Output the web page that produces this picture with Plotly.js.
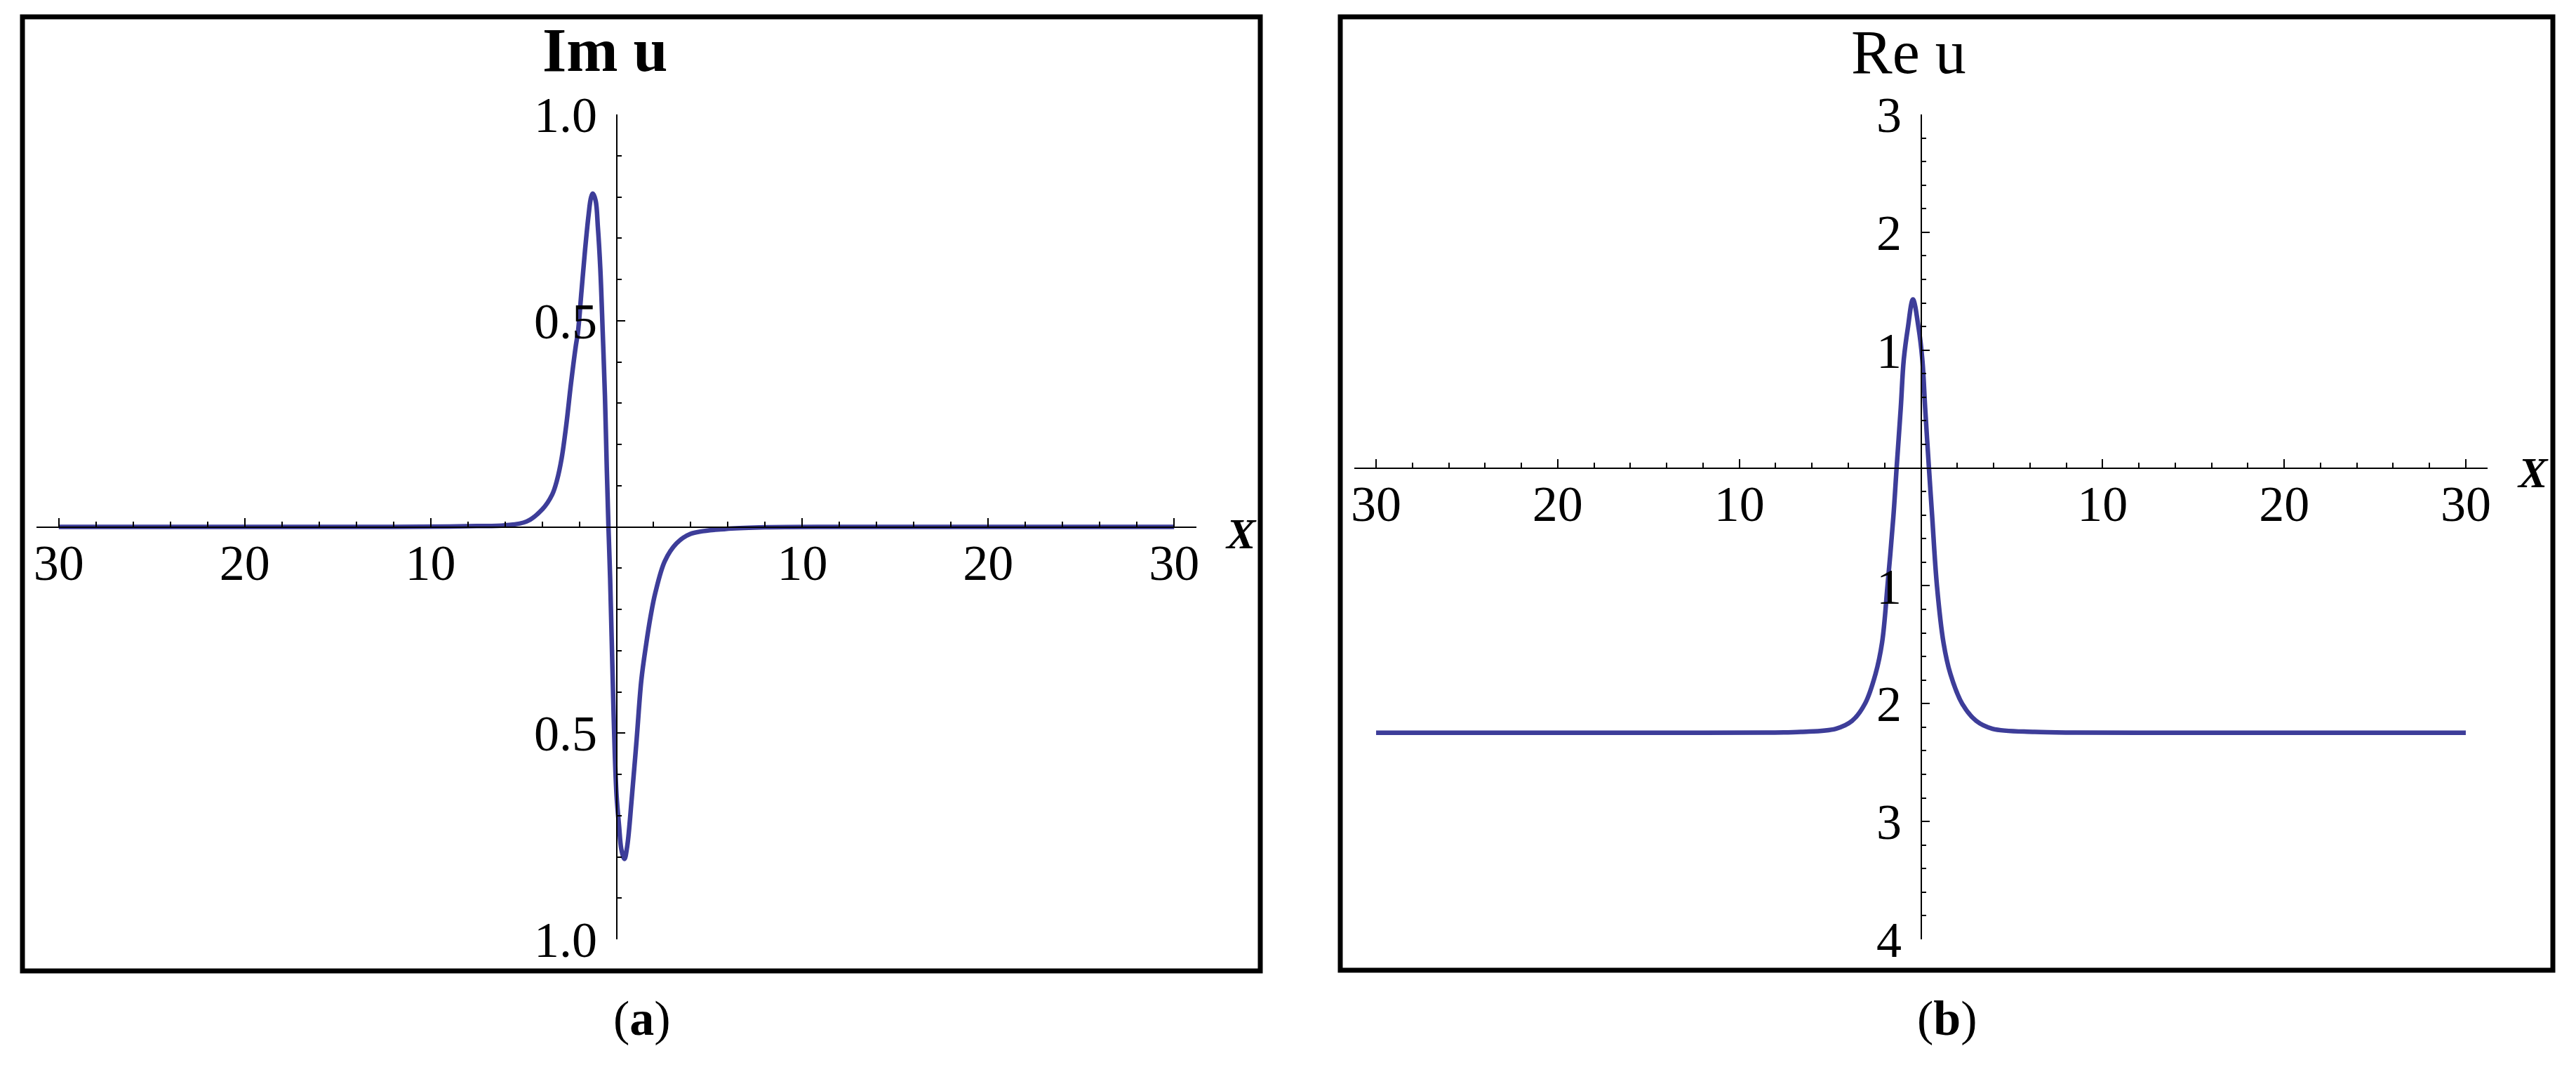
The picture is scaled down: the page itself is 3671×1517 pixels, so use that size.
<!DOCTYPE html>
<html>
<head>
<meta charset="utf-8">
<script src="https://cdn.plot.ly/plotly-3.0.1.min.js"></script>
<style>
body{margin:0;background:#fff;}
#chart{width:3671px;height:1517px;}
</style>
</head>
<body>
<div id="chart"></div>
<script>
// values
let imX=[-30,-20,-12,-9,-7.5,-5.98,-4.84,-3.98,-3.46,-3.2,-2.95,-2.7,-2.45,-2.19,-2.07,-1.88,-1.69,-1.5,-1.37,-1.27,-1.12,-1,-0.87,-0.74,-0.62,-0.52,-0.43,-0.34,-0.26,-0.18,-0.09,0.01,0.14,0.26,0.43,0.58,0.83,1.09,1.34,1.59,1.84,2.09,2.6,3.23,3.98,5.87,8,12,20,30];
let imY=[0,0,0,0.001,0.002,0.004,0.013,0.043,0.078,0.113,0.166,0.247,0.346,0.438,0.473,0.572,0.671,0.756,0.798,0.808,0.791,0.727,0.628,0.473,0.318,0.141,0,-0.125,-0.266,-0.407,-0.549,-0.654,-0.725,-0.781,-0.805,-0.774,-0.654,-0.513,-0.371,-0.287,-0.216,-0.16,-0.083,-0.04,-0.017,-0.005,-0.001,0,0,0];

let reX=[-30,-20,-12,-8.5,-6.6,-4.69,-3.79,-3.08,-2.5,-2.14,-1.84,-1.52,-1.34,-1.11,-0.95,-0.73,-0.44,-0.12,0.08,0.23,0.44,0.62,0.88,1.24,1.62,2.27,3.04,3.94,6.26,8.5,12,20,30];
let reY=[-2.247,-2.247,-2.247,-2.246,-2.24,-2.213,-2.146,-2.0,-1.747,-1.481,-0.998,-0.417,0,0.513,0.912,1.178,1.43,1.178,0.912,0.513,0,-0.417,-0.998,-1.481,-1.747,-2.0,-2.146,-2.213,-2.24,-2.246,-2.247,-2.247,-2.247];

let xTickVals=[-30,-20,-10,10,20,30];
let xTickText=["30","20","10","10","20","30"];
let imTickVals=[-1,-0.5,0.5,1];
let imTickText=["1.0","0.5","0.5","1.0"];
let reTickVals=[-4,-3,-2,-1,1,2,3];
let reTickText=["4","3","2","1","1","2","3"];

let W=3671,H=1517;
function px(x){return x/W;}
function py(y){return 1-y/H;}

let lineColor="#3d3d99";
let serif="Liberation Serif, Times New Roman, serif";

// plot areas in pixels
let aLeft=52,aRight=1705,bLeft=1930,bRight=3545,plotTop=163,plotBottom=1338;
let yDom=[py(plotBottom),py(plotTop)];
let xRange=[-31.2,31.2];
let imRange=[-1,1];
let reRange=[-4,3];

function zeroPos(dom,range){
return dom[0]+(0-range[0])/(range[1]-range[0])*(dom[1]-dom[0]);
}

function xAxis(dom,yr){
return {
domain:dom,range:xRange,anchor:"free",position:zeroPos(yDom,yr),side:"bottom",
showline:true,linecolor:"black",linewidth:2,zeroline:false,showgrid:false,
ticks:"inside",ticklen:12,tickwidth:2,tickcolor:"black",
tickmode:"array",tickvals:xTickVals,ticktext:xTickText,
minor:{ticks:"inside",ticklen:7,tickwidth:2,tickcolor:"black",dtick:2,tick0:0,showgrid:false},
tickfont:{family:serif,size:72,color:"black"},
ticklabelstandoff:-12,
fixedrange:true
};
}

function yAxis(xdom,yr,vals,text,minorStep){
return {
domain:yDom,range:yr,anchor:"free",position:zeroPos(xdom,xRange),side:"left",
showline:true,linecolor:"black",linewidth:2,zeroline:false,showgrid:false,
ticks:"inside",ticklen:11,tickwidth:2,tickcolor:"black",
tickmode:"array",tickvals:vals,ticktext:text,
minor:{ticks:"inside",ticklen:6,tickwidth:2,tickcolor:"black",dtick:minorStep,tick0:0,showgrid:false},
tickfont:{family:serif,size:72,color:"black"},
ticklabelstandoff:12,
fixedrange:true
};
}

let aDom=[px(aLeft),px(aRight)];
let bDom=[px(bLeft),px(bRight)];

let data=[
{x:imX,y:imY,xaxis:"x",yaxis:"y",type:"scatter",mode:"lines",
line:{color:lineColor,width:6.5,shape:"spline",smoothing:1}},
{x:reX,y:reY,xaxis:"x2",yaxis:"y2",type:"scatter",mode:"lines",
line:{color:lineColor,width:6.5,shape:"spline",smoothing:1}}
];

function frame(x0,y0,x1,y1){
return {type:"rect",xref:"paper",yref:"paper",x0:px(x0),x1:px(x1),y0:py(y1),y1:py(y0),
line:{color:"black",width:7},fillcolor:"rgba(0,0,0,0)"};
}

function note(text,x,y,size,extra){
return Object.assign({text:text,xref:"paper",yref:"paper",x:px(x),y:py(y),
xanchor:"center",yanchor:"middle",showarrow:false,
font:{family:serif,size:size,color:"black"}},extra||{});
}

let layout={
width:W,height:H,
margin:{l:0,r:0,t:0,b:0},
paper_bgcolor:"white",plot_bgcolor:"rgba(0,0,0,0)",
showlegend:false,
xaxis:xAxis(aDom,imRange),
yaxis:yAxis(aDom,imRange,imTickVals,imTickText,0.1),
xaxis2:xAxis(bDom,reRange),
yaxis2:yAxis(bDom,reRange,reTickVals,reTickText,0.2),
shapes:[frame(32,24,1796,1383),frame(1910,24,3638,1382)],
annotations:[
note("<b>Im u</b>",862,72,88),
note("Re u",2720,74,88),
note("<b><i>X</i></b>",1768,760,62),
note("<b><i>X</i></b>",3609,673,62),
note("(<b>a</b>)",915,1450,70),
note("(<b>b</b>)",2775,1450,70)
]
};

Plotly.newPlot("chart",data,layout,{staticPlot:true,displayModeBar:false});
</script>
</body>
</html>
